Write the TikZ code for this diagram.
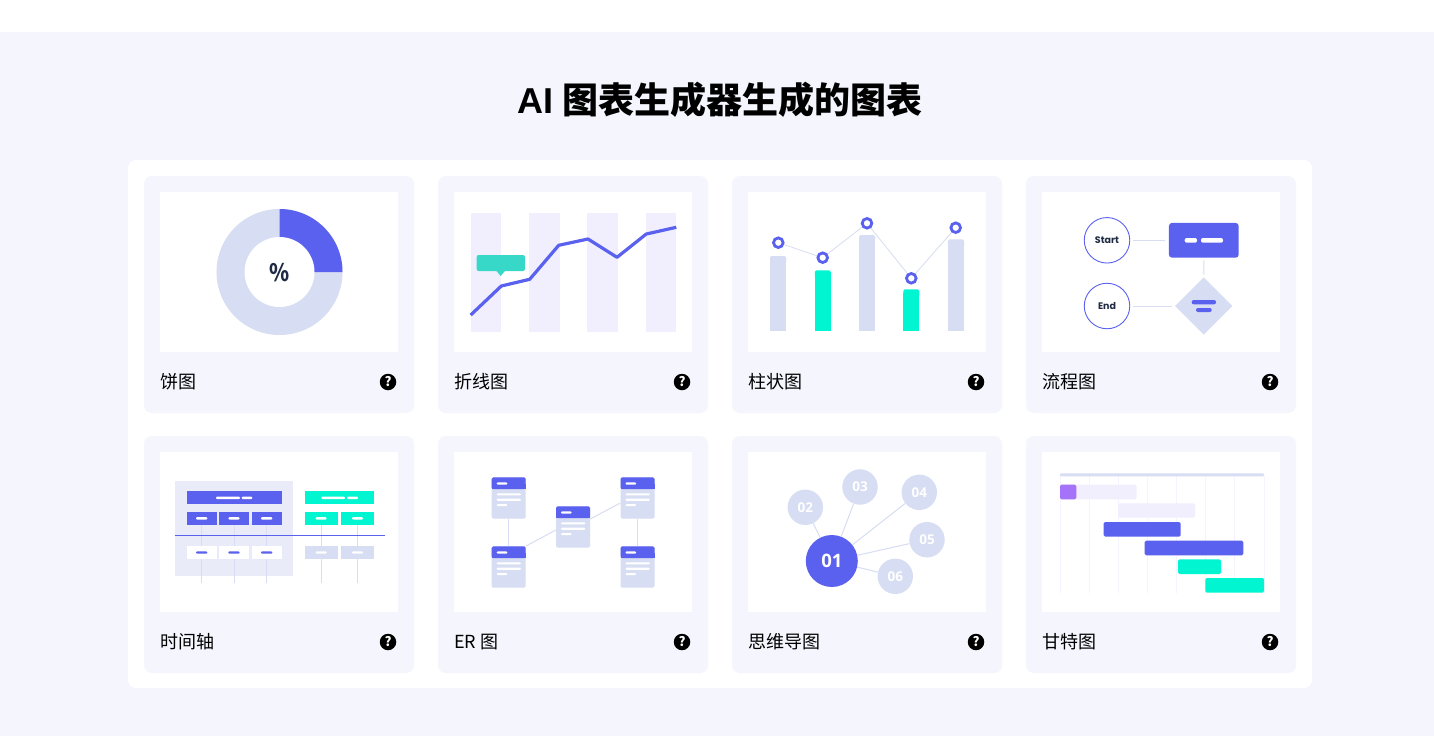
\documentclass[tikz,border=0pt]{standalone}
\usepackage{fontspec}
\setmainfont{Noto Sans CJK SC}
\newfontfamily\flowfont{Poppins}
\newfontfamily\mindfont{Open Sans}
\newfontfamily\titlefont{Liberation Sans}
\usetikzlibrary{shapes.geometric}
\definecolor{pagebg}{HTML}{F4F5FD}
\definecolor{indigo}{HTML}{5B61EF}
\definecolor{mint}{HTML}{00F5D0}
\definecolor{pale}{HTML}{D7DDF2}
\definecolor{lilac}{HTML}{F1EFFE}
\definecolor{teal}{HTML}{38D8C8}
\definecolor{violet}{HTML}{A572FA}
\definecolor{inktext}{HTML}{1F2A44}
\tikzset{
	panel/.style={fill=pagebg, rounded corners=8pt},
	caption/.style={anchor=west, inner sep=0pt, font=\fontsize{18}{20}\selectfont},
	helpmark/.style={circle, fill=black, text=white, inner sep=0pt, minimum size=16.5pt, font=\fontsize{13}{13}\selectfont\bfseries},
	pill/.style={rounded corners=1pt},
	link/.style={draw=pale, line width=1pt},
	satellite/.style={circle, fill=pale, text=white, inner sep=0pt, minimum size=35.4pt, font=\mindfont\fontsize{13.5}{14}\selectfont\bfseries},
	terminal/.style={circle, draw=indigo, line width=0.9pt, fill=white, text=inktext, inner sep=0pt, minimum size=45.5pt, font=\flowfont\fontsize{9.5}{12}\selectfont\bfseries},
	entity/.style={inner sep=0pt, minimum width=34pt, minimum height=41.4pt},
	bar/.style={rounded corners=1.5pt}
}
\newcommand{\entitybox}[3]{
	\node[entity] (#1) at (#2,#3) {};
	\fill[pale, rounded corners=1.5pt] (#2-17,#3-20.7) rectangle (#2+17,#3+20.7);
	\fill[indigo, rounded corners=1.5pt] (#2-17,#3-20.7) rectangle (#2+17,#3-9);
	\fill[indigo] (#2-17,#3-14) rectangle (#2+17,#3-9);
	\fill[white, pill] (#2-12,#3-15.6) rectangle (#2-1.4,#3-13.3);
	\fill[white, pill] (#2-12,#3-4.7) rectangle (#2+12.3,#3-2.6);
	\fill[white, pill] (#2-12,#3+0.7) rectangle (#2+12.3,#3+2.8);
	\fill[white, pill] (#2-12,#3+6) rectangle (#2-1.4,#3+8.1);
}
\begin{document}
\begin{tikzpicture}[x=1pt, y=-1pt]
	\useasboundingbox (0,0) rectangle (1434,752);
	\fill[white] (0,0) rectangle (1434,752);
	\fill[pagebg] (0,32) rectangle (1434,736);
	\node[inner sep=0pt, font=\fontsize{36}{40}\selectfont\bfseries] (title) at (720,100) {{\titlefont AI} 图表生成器生成的图表};
	\fill[white, rounded corners=8pt] (128,160) rectangle (1312,688);

	\foreach \cx/\nm/\tx in {144/a/饼图, 438/b/折线图, 732/c/柱状图, 1026/d/流程图}{
		\fill[panel] (\cx,176) rectangle (\cx+270,413);
		\fill[white] (\cx+16,192) rectangle (\cx+254,352);
		\node[caption] (cap\nm) at (\cx+16,382) {\tx};
		\node[helpmark] (help\nm) at (\cx+244,382) {?};
	}
	\foreach \cx/\nm/\tx in {144/e/时间轴, 438/f/ER 图, 732/g/思维导图, 1026/h/甘特图}{
		\fill[panel] (\cx,436) rectangle (\cx+270,673);
		\fill[white] (\cx+16,452) rectangle (\cx+254,612);
		\node[caption] (cap\nm) at (\cx+16,642) {\tx};
		\node[helpmark] (help\nm) at (\cx+244,642) {?};
	}

	% pie
	\fill[pale] (279.5,272) circle (63pt);
	\fill[indigo] (279.5,272) -- (279.5,209) arc[start angle=90, end angle=0, radius=63pt] -- cycle;
	\fill[white] (279.5,272) circle (35pt);
	\node[inner sep=0pt, text=inktext, xscale=0.85, transform shape, font=\fontsize{24}{24}\selectfont\bfseries] (percent) at (280,272.2) {\%};

	% line chart
	\foreach \bx in {470.7, 529, 587.3, 645.5}
		\fill[lilac] (\bx,213.3) rectangle (\bx+30.5,332.3);
	\draw[indigo, line width=3.2pt, line join=round] (470.7,315) -- (501.3,286) -- (529.7,279.3) -- (558.7,245.3) -- (588,239) -- (617,257.3) -- (646.3,234) -- (676.3,227.3);
	\fill[teal, rounded corners=2pt] (476.7,255) rectangle (525,271);
	\fill[teal] (496,270.5) -- (505.3,270.5) -- (500.7,276) -- cycle;

	% bars
	\foreach \bx/\by/\col in {770/256/pale, 814.8/270.4/mint, 859/235/pale, 903.3/289.4/mint, 948/239.4/pale}{
		\fill[\col, bar] (\bx,\by) rectangle (\bx+16,\by+8);
		\fill[\col] (\bx,\by+4) rectangle (\bx+16,331);
	}
	\draw[pale, line width=0.8pt] (778.3,242.7) -- (822.7,257.7) -- (867,223.3) -- (911.3,278.3) -- (955.7,227.7);
	\foreach \px/\py in {778.3/242.7, 822.7/257.7, 867/223.3, 911.3/278.3, 955.7/227.7}
		\draw[indigo, line width=2.8pt, fill=white] (\px,\py) circle (4.8pt);

	% flow chart
	\node[terminal] (start) at (1107,240.3) {Start};
	\node[terminal] (end) at (1107,306) {End};
	\node[fill=indigo, rounded corners=3pt, inner sep=0pt, minimum width=69.7pt, minimum height=34.7pt] (task) at (1203.8,240.3) {};
	\node[diamond, aspect=1, fill=pale, inner sep=0pt, minimum size=57.4pt] (choice) at (1203.7,306) {};
	\draw[link, shorten <=3pt, shorten >=4pt] (start) -- (task);
	\draw[link, shorten <=2.5pt, shorten >=2.5pt] (task) -- (choice);
	\draw[link, shorten <=3pt, shorten >=3pt] (end) -- (choice);
	\fill[white, rounded corners=2pt] (1184.7,238) rectangle (1197,242.7);
	\fill[white, rounded corners=2pt] (1201,238) rectangle (1223,242.7);
	\fill[indigo, rounded corners=2pt] (1191.7,300) rectangle (1216,304.3);
	\fill[indigo, rounded corners=2pt] (1196,308) rectangle (1211.7,312);

	% timeline
	\fill[pale!55] (175,480.7) rectangle (293,576);
	\foreach \lx in {201.5, 234, 266.7, 321.3, 357.3}{
		\draw[pale, line width=0.8pt] (\lx,525) -- (\lx,583);
	}
	\draw[indigo, line width=0.9pt] (174.7,535.4) -- (385,535.4);
	\fill[indigo] (186.7,491) rectangle (282,504.3);
	\fill[white, pill] (216,496.6) rectangle (240,499);
	\fill[white, pill] (241.7,496.6) rectangle (252.3,499);
	\fill[mint] (304.7,491) rectangle (374,504.3);
	\fill[white, pill] (321.3,496.6) rectangle (345,499);
	\fill[white, pill] (347,496.6) rectangle (358,499);
	\foreach \bx in {186.7, 219, 251.7}{
		\fill[indigo] (\bx,511.7) rectangle (\bx+30,525);
		\fill[white, pill] (\bx+9.3,517.2) rectangle (\bx+20.6,519.5);
		\fill[white] (\bx,546) rectangle (\bx+30,559);
		\fill[indigo, pill] (\bx+9.3,551.4) rectangle (\bx+20.6,553.7);
	}
	\foreach \bx in {304.7, 341}{
		\fill[mint] (\bx,511.7) rectangle (\bx+33,525);
		\fill[white, pill] (\bx+11,517.2) rectangle (\bx+22,519.5);
		\fill[pale] (\bx,546) rectangle (\bx+33,559);
		\fill[white, pill] (\bx+11,551.4) rectangle (\bx+22,553.7);
	}

	% er
	\entitybox{userA}{508.7}{498}
	\entitybox{userB}{508.7}{567}
	\entitybox{order}{573}{527}
	\entitybox{itemA}{637.5}{498}
	\entitybox{itemB}{637.5}{567}
	\draw[link] (userA) -- (userB);
	\draw[link] (userB.north east) -- ([yshift=-3pt]order.west);
	\draw[link] ([yshift=8pt]order.east) -- ([yshift=-5pt]itemA.west);
	\draw[link] (itemA) -- (itemB);

	% mind map
	\node[circle, fill=indigo, text=white, inner sep=0pt, minimum size=52pt, font=\mindfont\fontsize{18.5}{20}\selectfont\bfseries] (hub) at (831.8,561) {01};
	\node[satellite] (topicA) at (805.3,507.3) {02};
	\node[satellite] (topicB) at (860,487) {03};
	\node[satellite] (topicC) at (919.3,492.3) {04};
	\node[satellite] (topicD) at (927,539.7) {05};
	\node[satellite] (topicE) at (895.3,576.3) {06};
	\foreach \tp in {topicA, topicB, topicC, topicD, topicE}
		\draw[link] (hub) -- (\tp);

	% gantt
	\foreach \gx in {1060, 1089.3, 1118.3, 1147.3, 1176.3, 1205.3, 1234.7, 1264}
		\draw[lilac!70, line width=0.8pt] (\gx,476) -- (\gx,592.7);
	\fill[pale, rounded corners=1pt] (1060,473.3) rectangle (1264,476.4);
	\fill[lilac, bar] (1060,484.7) rectangle (1136.7,499.3);
	\fill[violet, bar] (1060,484.7) rectangle (1076.3,499.3);
	\fill[lilac, bar] (1118.3,503.3) rectangle (1195,517.7);
	\fill[indigo, bar] (1103.7,522) rectangle (1180.7,536.7);
	\fill[indigo, bar] (1144.7,540.7) rectangle (1243.3,555.3);
	\fill[mint, bar] (1178,559.3) rectangle (1221,574);
	\fill[mint, bar] (1205.3,578) rectangle (1264,592.7);
\end{tikzpicture}
\end{document}
